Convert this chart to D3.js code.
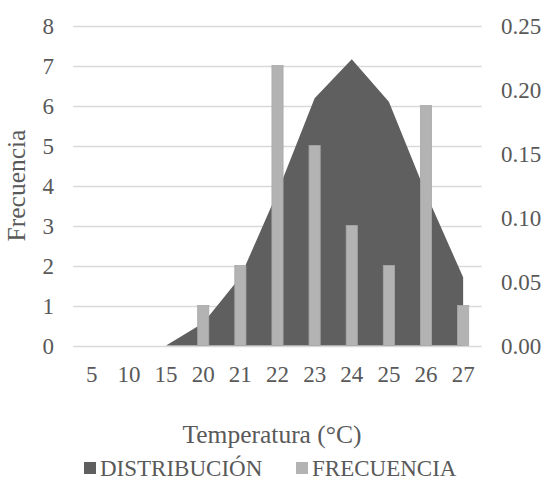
<!DOCTYPE html>
<html>
<head>
<meta charset="utf-8">
<script src="https://cdn.jsdelivr.net/npm/d3@7"></script>
<style>
  html, body { margin: 0; padding: 0; background: #fff; }
  svg { display: block; }
  svg text { font-family: "Liberation Serif", "Times New Roman", Times, serif; fill: #595959; }
</style>
</head>
<body>
<svg id="chart" width="545" height="484"></svg>
<script>
// Temperature classes on the category axis
const categories = ["5", "10", "15", "20", "21", "22", "23", "24", "25", "26", "27"];
// Observed frequency per class (left axis)
const frecuencia = [0, 0, 0, 1, 2, 7, 5, 3, 2, 6, 1];
// Fitted distribution density per class (right axis)
const distribucion = [0, 0, 0, 0.0176, 0.0535, 0.1197, 0.1931, 0.2236, 0.1905, 0.1188, 0.0533];
const leftTicks = [0, 1, 2, 3, 4, 5, 6, 7, 8];
const rightTicks = [0, 0.05, 0.10, 0.15, 0.20, 0.25];

const svg = d3.select("#chart");
const plot = { left: 73.3, right: 481.7, top: 25.5, bottom: 345.5 };

const x = d3.scaleBand().domain(categories).range([plot.left, plot.right]).padding(0);
const yL = d3.scaleLinear().domain([0, 8]).range([plot.bottom, plot.top]);
const yR = d3.scaleLinear().domain([0, 0.25]).range([plot.bottom, plot.top]);
const cx = c => x(c) + x.bandwidth() / 2;

// Horizontal gridlines
svg.append("g")
  .selectAll("line")
  .data(leftTicks)
  .join("line")
  .attr("x1", plot.left).attr("x2", plot.right)
  .attr("y1", d => Math.round(yL(d)) + 0.5).attr("y2", d => Math.round(yL(d)) + 0.5)
  .attr("stroke", "#d9d9d9").attr("stroke-width", 1.3);

// Distribution area
const areaGen = d3.area()
  .x((d, i) => cx(categories[i]))
  .y0(yR(0))
  .y1(d => yR(d));
svg.append("path")
  .datum(distribucion)
  .attr("d", areaGen)
  .attr("fill", "#5f5f5f");

// Frequency bars
const barW = x.bandwidth() * 0.3;
svg.append("g")
  .selectAll("rect")
  .data(frecuencia)
  .join("rect")
  .attr("x", (d, i) => cx(categories[i]) - barW / 2)
  .attr("width", barW)
  .attr("y", d => yL(d))
  .attr("height", d => yL(0) - yL(d))
  .attr("fill", "#b3b3b3")
  .attr("stroke", "#a8a8a8")
  .attr("stroke-width", d => d > 0 ? 0.8 : 0);

// Tick labels drawn from the scales
const tickStyle = sel => sel.attr("font-size", 23).attr("fill", "#595959");

svg.append("g").selectAll("text")
  .data(leftTicks).join("text")
  .attr("x", 54).attr("y", d => yL(d)).attr("dy", "0.35em")
  .attr("text-anchor", "end")
  .text(d3.format("d"))
  .call(tickStyle);

svg.append("g").selectAll("text")
  .data(rightTicks).join("text")
  .attr("x", 501).attr("y", d => yR(d)).attr("dy", "0.35em")
  .attr("text-anchor", "start")
  .text(d3.format(".2f"))
  .call(tickStyle);

svg.append("g").selectAll("text")
  .data(categories).join("text")
  .attr("x", d => cx(d)).attr("y", 382)
  .attr("text-anchor", "middle")
  .text(d => d)
  .call(tickStyle);

// Axis titles
svg.append("text")
  .attr("x", 272).attr("y", 443)
  .attr("text-anchor", "middle")
  .attr("font-size", 25.5)
  .text("Temperatura (°C)");

svg.append("text")
  .attr("transform", `translate(25,${(plot.top + plot.bottom) / 2}) rotate(-90)`)
  .attr("text-anchor", "middle")
  .attr("font-size", 25.5)
  .text("Frecuencia");

// Legend
const legend = [
  { name: "DISTRIBUCIÓN", color: "#5f5f5f", x: 84 },
  { name: "FRECUENCIA", color: "#b3b3b3", x: 296 }
];
const lg = svg.append("g");
legend.forEach(l => {
  lg.append("rect").attr("x", l.x).attr("y", 462).attr("width", 12).attr("height", 12).attr("fill", l.color);
  lg.append("text").attr("x", l.x + 16).attr("y", 476).attr("font-size", 23).text(l.name);
});
</script>
</body>
</html>
